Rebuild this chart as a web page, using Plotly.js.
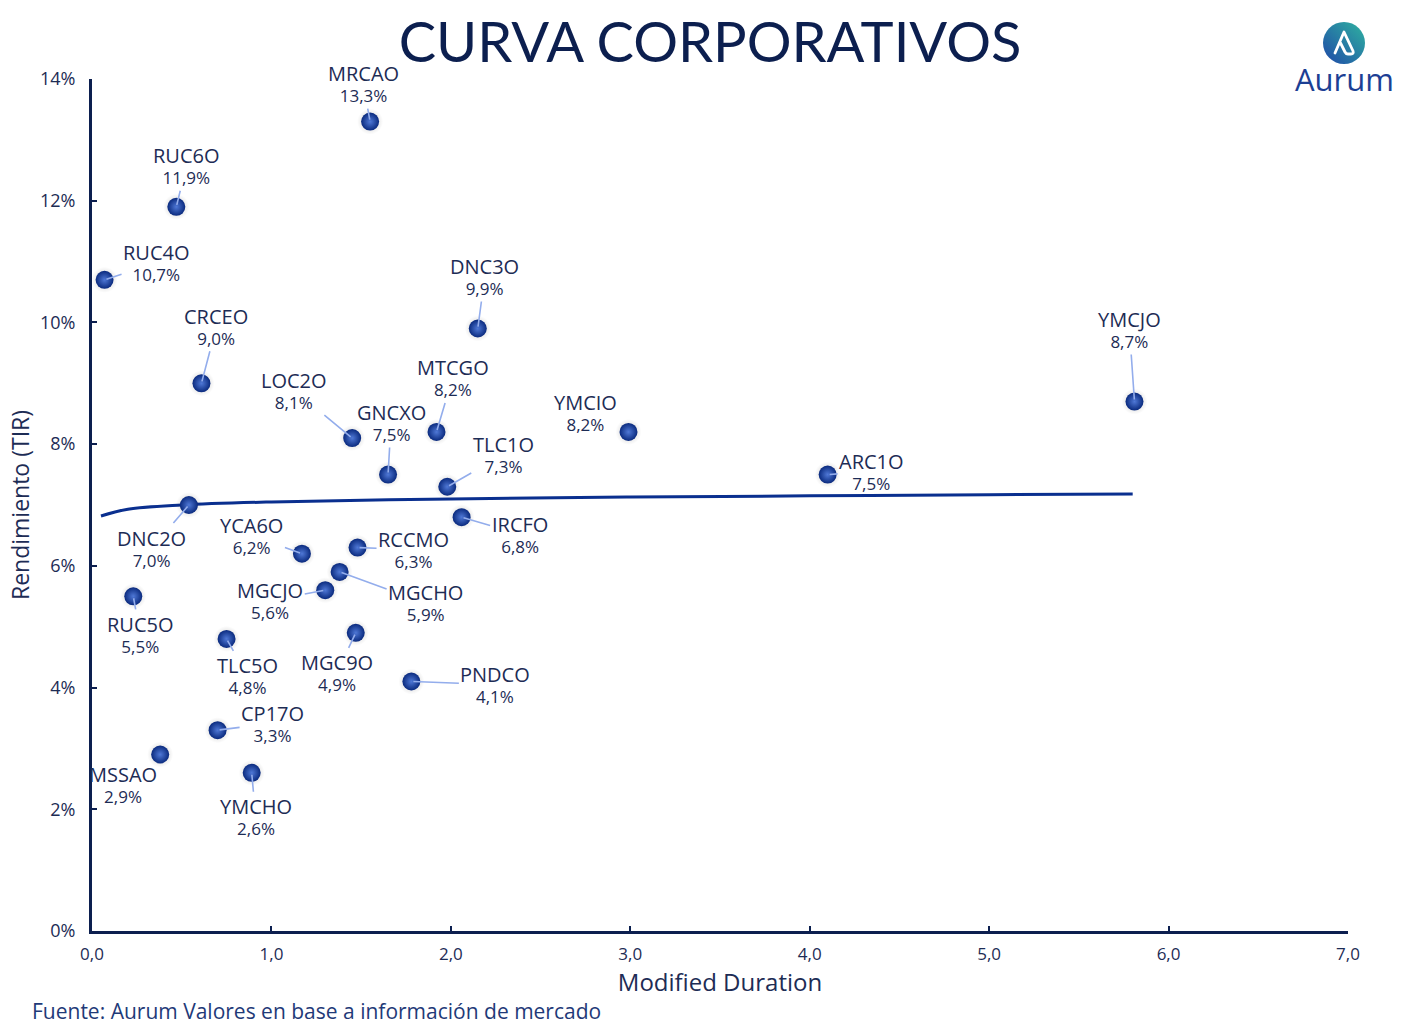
<!DOCTYPE html>
<html>
<head>
<meta charset="utf-8">
<script src="https://cdn.plot.ly/plotly-3.0.1.min.js"></script>
<style>
  html, body { margin: 0; padding: 0; background: #ffffff; }
  #chart { width: 1420px; height: 1030px; }
</style>
</head>
<body>
<div id="chart"></div>
<script>
// Bond tickers, modified duration (years) and yield (%)
const tickers = ["MRCAO","RUC6O","RUC4O","CRCEO","DNC3O","YMCJO","LOC2O","MTCGO","GNCXO","YMCIO",
                 "TLC1O","ARC1O","DNC2O","IRCFO","YCA6O","RCCMO","MGCHO","MGCJO","RUC5O","TLC5O",
                 "MGC9O","PNDCO","CP17O","MSSAO","YMCHO"];
const duration = [1.55, 0.47, 0.07, 0.61, 2.15, 5.81, 1.45, 1.92, 1.65, 2.99,
                  1.98, 4.10, 0.54, 2.06, 1.17, 1.48, 1.38, 1.30, 0.23, 0.75,
                  1.47, 1.78, 0.70, 0.38, 0.89];
const yieldPct = [13.3, 11.9, 10.7, 9.0, 9.9, 8.7, 8.1, 8.2, 7.5, 8.2,
                  7.3, 7.5, 7.0, 6.8, 6.2, 6.3, 5.9, 5.6, 5.5, 4.8,
                  4.9, 4.1, 3.3, 2.9, 2.6];

// Logarithmic trend curve through the set
const trendX = [0.05, 0.2, 0.5, 1.0, 2.0, 3.0, 4.0, 5.0, 5.8];
const trendY = [6.82, 6.93, 7.00, 7.05, 7.10, 7.13, 7.15, 7.17, 7.18];

// Axis ticks
const xTicks = [0, 1, 2, 3, 4, 5, 6, 7];
const yTicks = [0, 2, 4, 6, 8, 10, 12, 14];
const yTickText = ["0%", "2%", "4%", "6%", "8%", "10%", "12%", "14%"];

// Label placement: pixel offset of each label from its point
const labelOffsets = [[-7,-38],[10,-41],[52,-17],[15,-57],[7,-52],[-5,-72],[-58,-48],[16,-54],[3,-52],[-43,-19],
                      [56,-32],[44,-3],[-37,43],[58,17],[-50,-18],[56,2],[86,31],[-55,10],[7,38],[21,37],
                      [-19,40],[84,3],[55,-7],[-37,30],[4,44]];
const noLeader = ["YMCIO","MSSAO"];

const NAVY = "#0c1f4f";
const TEXT = "#1d2c55";
const FONT = "'Open Sans', 'Noto Sans', sans-serif";
const TITLE_FONT = "Lato, 'Open Sans', sans-serif";

// Plot-area geometry helpers (pixel -> paper)
const W = 1420, H = 1030;
const M = {l: 92, r: 72, t: 79, b: 99};
const PW = W - M.l - M.r, PH = H - M.t - M.b;
const px = x => (x - M.l) / PW;
const py = y => (H - M.b - y) / PH;

const fmt = v => v.toFixed(1).replace(".", ",");

// Two-line point labels: ticker on top, yield below (base size sets the line pitch)
const annotations = tickers.map((t, i) => ({
  x: duration[i], y: yieldPct[i], xref: "x", yref: "y",
  text: "<span style='font-size:20px'>" + t + "</span><br>" +
        "<span style='font-size:17px'>" + fmt(yieldPct[i]) + "%</span>",
  showarrow: true, arrowhead: 0, arrowwidth: 1.6,
  arrowcolor: noLeader.includes(t) ? "rgba(0,0,0,0)" : "#93adec",
  ax: labelOffsets[i][0], ay: labelOffsets[i][1],
  standoff: 2,
  font: {family: FONT, size: 16, color: TEXT},
  align: "center"
}));

annotations.push({
  xref: "paper", yref: "paper", x: px(30), y: py(1011),
  xanchor: "left", yanchor: "middle", showarrow: false,
  text: "Fuente: Aurum Valores en base a información de mercado",
  font: {family: FONT, size: 21, color: "#1f3a78"}
});
annotations.push({
  xref: "paper", yref: "paper", x: px(1344), y: py(79),
  xanchor: "center", yanchor: "middle", showarrow: false,
  text: "Aurum",
  font: {family: FONT, size: 31, color: "#1c3f94"}
});

const logoSvg =
  "<svg xmlns='http://www.w3.org/2000/svg' width='44' height='44' viewBox='0 0 44 44'>" +
  "<defs><linearGradient id='g' x1='1' y1='0' x2='0' y2='1'>" +
  "<stop offset='0' stop-color='#2fb3a0'/><stop offset='1' stop-color='#1f48a8'/></linearGradient></defs>" +
  "<circle cx='22' cy='22' r='21' fill='url(#g)'/>" +
  "<path d='M13 32 L22 11 L31 30 Q32 33 29 33 L26 33 Q24 33 23 31 L18.5 22' fill='none' stroke='white' " +
  "stroke-width='2.8' stroke-linecap='round' stroke-linejoin='round'/></svg>";

const traces = [
  {
    x: trendX, y: trendY, type: "scatter", mode: "lines",
    line: {color: "#0a2f8f", width: 3, shape: "spline"},
    hoverinfo: "skip"
  },
  {
    x: duration, y: yieldPct, type: "scatter", mode: "markers",
    marker: {size: 26, color: "rgba(0,0,0,0)", gradient: {type: "radial", color: "rgba(0,0,0,0.22)"},
             line: {width: 0}},
    hoverinfo: "skip"
  },
  {
    x: duration, y: yieldPct, type: "scatter", mode: "markers",
    text: tickers,
    marker: {size: 18, color: "#0a2a7e", gradient: {type: "radial", color: "#4f78d6"},
             line: {width: 0}}
  }
];

const layout = {
  width: W, height: H,
  margin: M,
  paper_bgcolor: "#ffffff", plot_bgcolor: "#ffffff",
  showlegend: false,
  separators: ",.",
  font: {family: FONT, color: TEXT},
  title: {
    text: "CURVA CORPORATIVOS",
    x: 0.5, xref: "container", xanchor: "center",
    y: 1 - 42 / H, yref: "container", yanchor: "middle",
    font: {family: TITLE_FONT, size: 56, color: NAVY}
  },
  xaxis: {
    range: [0, 7], tickvals: xTicks, tickformat: ".1f",
    showgrid: false, zeroline: false,
    showline: true, linecolor: NAVY, linewidth: 3,
    ticks: "inside", ticklen: 5, tickwidth: 2, tickcolor: NAVY,
    tickfont: {family: FONT, size: 17, color: TEXT},
    ticklabelstandoff: 6,
    title: {text: "Modified Duration", font: {family: FONT, size: 24, color: TEXT}, standoff: 8},
    fixedrange: true
  },
  yaxis: {
    range: [0, 14], tickvals: yTicks, ticktext: yTickText,
    showgrid: false, zeroline: false,
    showline: true, linecolor: NAVY, linewidth: 3,
    ticks: "inside", ticklen: 5, tickwidth: 2, tickcolor: NAVY,
    tickfont: {family: FONT, size: 18, color: TEXT},
    ticklabelstandoff: 10,
    title: {text: "Rendimiento (TIR)", font: {family: FONT, size: 23, color: TEXT}, standoff: 4},
    fixedrange: true
  },
  annotations: annotations,
  images: [{
    source: "data:image/svg+xml;charset=utf-8," + encodeURIComponent(logoSvg),
    xref: "paper", yref: "paper",
    x: px(1322), y: py(21), sizex: 44 / PW, sizey: 44 / PH,
    xanchor: "left", yanchor: "top", sizing: "stretch", layer: "above"
  }]
};

Plotly.newPlot("chart", traces, layout, {displayModeBar: false, staticPlot: true});
</script>
</body>
</html>
